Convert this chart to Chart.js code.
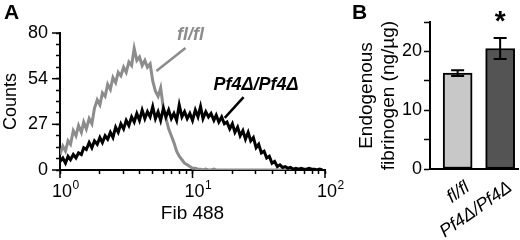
<!DOCTYPE html>
<html>
<head>
<meta charset="utf-8">
<script src="https://cdn.jsdelivr.net/npm/chart.js@4.4.1/dist/chart.umd.min.js"></script>
<style>
  html, body { margin: 0; padding: 0; background: #fff; }
  #wrap { position: relative; width: 520px; height: 240px; }
  #histA { position: absolute; left: 0; top: 0; width: 345px; height: 240px; }
  #barsB { position: absolute; left: 340px; top: 0; width: 180px; height: 240px; }
</style>
</head>
<body>
<div id="wrap">
  <canvas id="histA" width="345" height="240"></canvas>
  <canvas id="barsB" width="180" height="240"></canvas>
</div>
<script>
// ---- panel A: flow histogram (Fib 488, log scale)
const fib488 = [
  1.00, 1.05, 1.10, 1.15, 1.20, 1.26, 1.32, 1.38, 1.45, 1.51,
  1.58, 1.66, 1.74, 1.82, 1.91, 2.00, 2.09, 2.19, 2.29, 2.40,
  2.51, 2.63, 2.75, 2.88, 3.02, 3.16, 3.31, 3.47, 3.63, 3.80,
  3.98, 4.17, 4.37, 4.57, 4.79, 5.01, 5.25, 5.50, 5.75, 6.03,
  6.31, 6.61, 6.92, 7.24, 7.59, 7.94, 8.32, 8.71, 9.12, 9.55,
  10.0, 10.5, 11.0, 11.5, 12.0, 12.6, 13.2, 13.8, 14.5, 15.1,
  15.8, 16.6, 17.4, 18.2, 19.1, 20.0, 20.9, 21.9, 22.9, 24.0,
  25.1, 26.3, 27.5, 28.8, 30.2, 31.6, 33.1, 34.7, 36.3, 38.0,
  39.8, 41.7, 43.7, 45.7, 47.9, 50.1, 52.5, 55.0, 57.5, 60.3,
  63.1, 66.1, 69.2, 72.4, 75.9, 79.4, 83.2, 87.1, 91.2, 95.5
]
const countsFlfl = [
  9, 14, 11, 17, 15, 23, 20, 26, 22, 28,
  24, 30, 27, 36, 41, 38, 45, 43, 50, 47,
  54, 51, 57, 55, 60, 57, 63, 61, 71, 64,
  66, 61, 64, 60, 62, 52, 46, 43, 48, 36,
  30, 24, 20, 16, 11, 8, 6, 4, 3, 2,
  1, 1, 0.5, 0.5, 0, 0.5, 0, 0, 0.5, 0,
  0, 0, 0, 0, 0, 0, 0, 0, 0, 0,
  0, 0, 0, 0, 0, 0, 0, 0, 0, 0,
  0, 0, 0, 0, 0, 0, 0, 0, 0, 0,
  0, 0, 0, 0, 0, 0, 0, 0, 0, 0
]
const countsPf4 = [
  5, 7, 4, 8, 6, 9, 7, 10, 9, 13,
  12, 16, 13, 17, 15, 19, 16, 20, 18, 22,
  19, 25, 22, 27, 24, 29, 26, 31, 28, 33,
  29, 35, 30, 34, 31, 37, 30, 34, 29, 36,
  31, 35, 30, 33, 29, 38, 31, 34, 30, 33,
  29, 35, 31, 37, 30, 34, 31, 33, 29, 32,
  28, 31, 27, 28, 24, 27, 22, 25, 20, 23,
  18, 22, 17, 19, 13, 15, 10, 11, 7, 8,
  4, 5, 2, 3, 1.5, 2, 1, 1.5, 0.5, 1,
  0.5, 1, 0.5, 0.5, 1, 0.5, 0.5, 0, 0.5, 0
]
const fibTicks = [1, 2, 3, 4, 5, 6, 7, 8, 9, 10, 20, 30, 40, 50, 60, 70, 80, 90, 100]
const fibMajor = [1, 10, 100]
const fibExponent = ['0', '1', '2']
const countTicks = [0, 6.67, 13.33, 20, 26.67, 33.33, 40, 46.67, 53.33, 60, 66.67, 73.33, 80]
const countLabels = ['0', '27', '54', '80']

// ---- panel B: endogenous fibrinogen
const groups = ['fl/fl', 'Pf4Δ/Pf4Δ']
const groupPos = [1, 2]
const fibrinogenMean = [16.3, 20.5]
const fibrinogenSem = [0.5, 1.8]
const signif = ['', '*']
const fillB = ['#c8c8c8', '#545454']

const FONT = '"Liberation Sans", Arial, Helvetica, sans-serif'
const GRAY = '#8c8c8c'
Chart.defaults.font.family = FONT
Chart.defaults.color = '#000'

function toPoints(xs, ys) {
    return xs.map((x, i) => ({x: x, y: ys[i]}))
}

const annotA = [
    {text: 'fl/fl', color: GRAY, at: [9.66, 78.8], align: 'center', line: [[8.85, 71.2], [5.34, 57.8]]},
    {text: 'Pf4Δ/Pf4Δ', color: '#000', at: [14.4, 49.6], align: 'left', line: [[24.3, 42.6], [17.5, 30.4]]}
]

const panelA_extras = {
    id: 'panelA_extras',
    afterDraw(chart) {
        const ctx = chart.ctx
        const xs = chart.scales.x, ys = chart.scales.y
        const area = chart.chartArea
        ctx.save()
        ctx.strokeStyle = '#000'
        ctx.lineWidth = 1.5
        // longer major ticks
        fibMajor.forEach(v => {
            const px = xs.getPixelForValue(v)
            ctx.beginPath(); ctx.moveTo(px, area.bottom); ctx.lineTo(px, area.bottom + 8); ctx.stroke()
        })
        countTicks.forEach((v, i) => {
            if (i % 4 !== 0) return
            const py = ys.getPixelForValue(v)
            ctx.beginPath(); ctx.moveTo(area.left - 8, py); ctx.lineTo(area.left, py); ctx.stroke()
        })
        // 10^n tick labels
        ctx.fillStyle = '#000'
        ctx.textBaseline = 'alphabetic'
        fibMajor.forEach((v, i) => {
            const px = xs.getPixelForValue(v) + 2
            ctx.font = '18px ' + FONT
            ctx.textAlign = 'center'
            ctx.fillText('10', px, area.bottom + 27)
            const w = ctx.measureText('10').width
            ctx.font = '12px ' + FONT
            ctx.textAlign = 'left'
            ctx.fillText(fibExponent[i], px + w / 2 + 0.5, area.bottom + 19)
        })
        // leader labels
        annotA.forEach(a => {
            ctx.strokeStyle = a.color
            ctx.lineWidth = 2.5
            ctx.beginPath()
            ctx.moveTo(xs.getPixelForValue(a.line[0][0]), ys.getPixelForValue(a.line[0][1]))
            ctx.lineTo(xs.getPixelForValue(a.line[1][0]), ys.getPixelForValue(a.line[1][1]))
            ctx.stroke()
            ctx.fillStyle = a.color
            ctx.font = 'italic bold 18px ' + FONT
            ctx.textAlign = a.align
            ctx.textBaseline = 'middle'
            ctx.fillText(a.text, xs.getPixelForValue(a.at[0]), ys.getPixelForValue(a.at[1]))
        })
        ctx.fillStyle = '#000'
        ctx.font = 'bold 21px ' + FONT
        ctx.textAlign = 'left'
        ctx.textBaseline = 'alphabetic'
        ctx.fillText('A', 4, 19)
        ctx.restore()
    }
}

let hist_chart = new Chart(document.getElementById('histA'), {
    type: 'line',
    data: {
        datasets: [
            {label: 'Pf4Δ/Pf4Δ', data: toPoints(fib488, countsPf4), borderColor: '#000', borderWidth: 3,
             pointRadius: 0, tension: 0, order: 0},
            {label: 'fl/fl', data: toPoints(fib488, countsFlfl), borderColor: GRAY, borderWidth: 3,
             pointRadius: 0, tension: 0, order: 1}
        ]
    },
    options: {
        responsive: false,
        animation: false,
        events: [],
        layout: {padding: {top: 33, right: 20, bottom: 0, left: 0}},
        plugins: {legend: {display: false}, tooltip: {enabled: false}},
        scales: {
            x: {
                type: 'logarithmic', min: 1, max: 100,
                afterBuildTicks: s => { s.ticks = fibTicks.map(v => ({value: v})) },
                afterFit: s => { s.height = 70 },
                ticks: {display: false},
                grid: {drawOnChartArea: false, tickLength: 4, tickWidth: 1.5, tickColor: '#000'},
                border: {color: '#000', width: 2},
                title: {display: true, text: 'Fib 488', color: '#000', font: {size: 19}, padding: {top: 0, bottom: 15}}
            },
            y: {
                min: 0, max: 80,
                afterBuildTicks: s => { s.ticks = countTicks.map(v => ({value: v})) },
                afterFit: s => { s.width = 60 },
                ticks: {
                    callback: (v, i) => i % 4 === 0 ? countLabels[i / 4] : '',
                    autoSkip: false, padding: 8, color: '#000', font: {size: 18}
                },
                grid: {drawOnChartArea: false, tickLength: 4, tickWidth: 1.5, tickColor: '#000'},
                border: {color: '#000', width: 2},
                title: {display: true, text: 'Counts', color: '#000', font: {size: 18}, padding: 0}
            }
        }
    },
    plugins: [panelA_extras]
})

const panelB_extras = {
    id: 'panelB_extras',
    afterDatasetsDraw(chart) {
        const ctx = chart.ctx
        const ys = chart.scales.y
        const bars = chart.getDatasetMeta(0).data
        ctx.save()
        ctx.strokeStyle = '#000'
        ctx.lineWidth = 2
        bars.forEach((bar, i) => {
            const top = ys.getPixelForValue(fibrinogenMean[i] + fibrinogenSem[i])
            const bot = ys.getPixelForValue(fibrinogenMean[i] - fibrinogenSem[i])
            ctx.beginPath()
            ctx.moveTo(bar.x, top); ctx.lineTo(bar.x, bot)
            ctx.moveTo(bar.x - 6.5, top); ctx.lineTo(bar.x + 6.5, top)
            ctx.moveTo(bar.x - 6.5, bot); ctx.lineTo(bar.x + 6.5, bot)
            ctx.stroke()
            if (signif[i]) {
                ctx.fillStyle = '#000'
                ctx.font = 'bold 28px ' + FONT
                ctx.textAlign = 'center'
                ctx.textBaseline = 'alphabetic'
                ctx.fillText(signif[i], bar.x, top - 8)
            }
        })
        ctx.fillStyle = '#000'
        ctx.font = 'bold 21px ' + FONT
        ctx.textAlign = 'left'
        ctx.textBaseline = 'alphabetic'
        ctx.fillText('B', 12, 19)
        ctx.restore()
    }
}

let bar_chart = new Chart(document.getElementById('barsB'), {
    type: 'bar',
    data: {
        datasets: [{
            data: toPoints(groupPos, fibrinogenMean),
            backgroundColor: fillB,
            borderColor: '#000',
            borderWidth: 2,
            borderSkipped: false,
            barThickness: 29
        }]
    },
    options: {
        responsive: false,
        animation: false,
        events: [],
        layout: {padding: {top: 22, right: 2, bottom: 0, left: 0}},
        plugins: {legend: {display: false}, tooltip: {enabled: false}},
        scales: {
            x: {
                type: 'linear', min: 0.35, max: 2.42, offset: false,
                afterBuildTicks: s => { s.ticks = groupPos.map(v => ({value: v})) },
                afterFit: s => { s.height = 71 },
                ticks: {
                    callback: v => groups[groupPos.indexOf(v)],
                    autoSkip: false, minRotation: 35, maxRotation: 35, padding: 0, labelOffset: 10,
                    color: '#000', font: {size: 18, style: 'italic'}
                },
                grid: {display: false, offset: false},
                border: {color: '#000', width: 2}
            },
            y: {
                min: 0, max: 25,
                ticks: {stepSize: 5, callback: v => v % 10 === 0 ? String(v) : '', padding: 2,
                        color: '#000', font: {size: 18}},
                afterFit: s => { s.width = 90 },
                grid: {drawOnChartArea: false, tickLength: 6, tickWidth: 1.5, tickColor: '#000'},
                border: {color: '#000', width: 2},
                title: {display: true, text: ['Endogenous', 'fibrinogen (ng/µg)'], color: '#000',
                        font: {size: 19}, padding: {top: 15, bottom: 0}}
            }
        }
    },
    plugins: [panelB_extras]
})
</script>
</body>
</html>
